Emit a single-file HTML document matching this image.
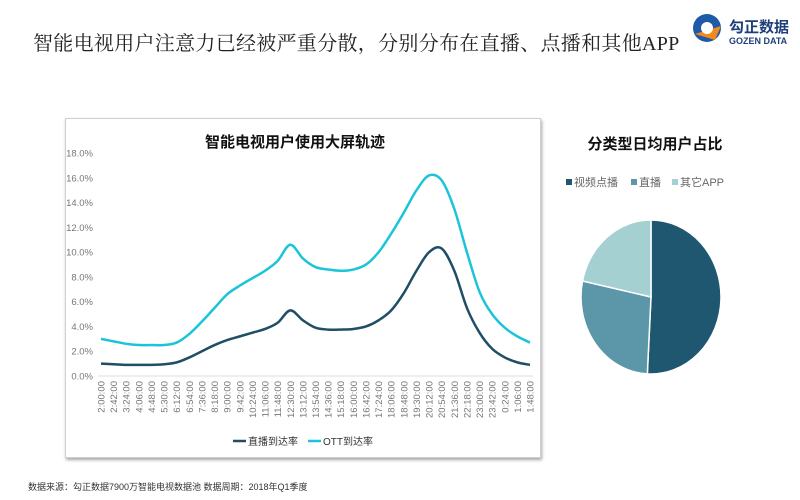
<!DOCTYPE html>
<html><head><meta charset="utf-8"><style>
body{margin:0;background:#fff;width:800px;height:500px;overflow:hidden;position:relative;font-family:"Liberation Sans","Noto Sans CJK SC",sans-serif}
.t{position:absolute;left:33px;top:27px;font-family:"Liberation Serif","Noto Serif CJK SC",serif;font-size:20px;color:#222;white-space:nowrap;letter-spacing:0.3px}
.box{position:absolute;left:65px;top:118px;width:474px;height:338px;border:1px solid #d0d0d0;box-shadow:1px 2px 3px rgba(0,0,0,0.35)}
.foot{position:absolute;left:28px;top:480px;font-size:9px;color:#333}
</style></head><body>
<div class="t">智能电视用户注意力已经被严重分散，分别分布在直播、点播和其他APP</div>
<div class="box"></div>
<svg width="800" height="500" style="position:absolute;left:0;top:0" id="s">
<g transform="translate(685,10)">
<circle cx="22" cy="18" r="14" fill="#1e5aa8"/>
<path d="M10 24 L36 16 L30 30 Z" fill="#f08a1c"/>
<circle cx="22" cy="18" r="6" fill="#fff"/>
<text x="44" y="22" font-size="15" font-weight="bold" fill="#1e3f7a" font-family="Liberation Sans,Noto Sans CJK SC,sans-serif">勾正数据</text>
<text x="44" y="34" font-size="9" font-weight="bold" fill="#1e3f7a" font-family="Liberation Sans,sans-serif">GOZEN DATA</text>
</g>
<text x="295" y="147" text-anchor="middle" font-size="15" font-weight="bold" fill="#111" font-family="Liberation Sans,Noto Sans CJK SC,sans-serif">智能电视用户使用大屏轨迹</text>
<text x="655" y="149" text-anchor="middle" font-size="15" font-weight="bold" fill="#111" font-family="Liberation Sans,Noto Sans CJK SC,sans-serif">分类型日均用户占比</text>
<g font-size="11" fill="#666" font-family="Liberation Sans,Noto Sans CJK SC,sans-serif">
<rect x="566" y="179" width="6" height="6" fill="#1f5670"/><text x="574" y="186">视频点播</text>
<rect x="631" y="179" width="6" height="6" fill="#5b97a8"/><text x="639" y="186">直播</text>
<rect x="672" y="179" width="6" height="6" fill="#a5d0d2"/><text x="680" y="186">其它APP</text>
</g>
<g id="pie"></g>
<g id="ch"></g>
<g font-size="10" fill="#333" font-family="Liberation Sans,Noto Sans CJK SC,sans-serif">
<line x1="233" y1="441" x2="246" y2="441" stroke="#1f4e66" stroke-width="2.5"/><text x="248" y="445">直播到达率</text>
<line x1="308" y1="441" x2="321" y2="441" stroke="#1bc4d8" stroke-width="2.5"/><text x="323" y="445">OTT到达率</text>
</g>
</svg>
<div class="foot">数据来源：勾正数据7900万智能电视数据池  数据周期：2018年Q1季度</div>
<script>
var ns="http://www.w3.org/2000/svg",g=document.getElementById('ch');
function el(n,a,t){var e=document.createElementNS(ns,n);for(var k in a)e.setAttribute(k,a[k]);if(t)e.textContent=t;return e}
var y0=376,py=12.38,x0=101,dx=(530-101)/34;
for(var i=0;i<=9;i++){var v=i*2;g.appendChild(el('text',{x:93,y:y0-v*py+3.5,'text-anchor':'end','font-size':9.5,fill:'#777'},v.toFixed(1)+'%'))}
g.appendChild(el('line',{x1:98,y1:y0,x2:533,y2:y0,stroke:'#ddd'}));
var L=["2:00","2:42","3:24","4:06","4:48","5:30","6:12","6:54","7:36","8:18","9:00","9:42","10:24","11:06","11:48","12:30","13:12","13:54","14:36","15:18","16:00","16:42","17:24","18:06","18:48","19:30","20:12","20:54","21:36","22:18","23:00","23:42","0:24","1:06","1:48"];
L.forEach(function(s,i){var x=x0+i*dx+3.5;g.appendChild(el('text',{x:0,y:0,transform:'translate('+x+',381) rotate(-90)','text-anchor':'end','font-size':9.5,fill:'#777'},s+':00'))});
var ott=[3.0,2.8,2.6,2.5,2.5,2.5,2.7,3.4,4.4,5.5,6.6,7.3,7.9,8.5,9.3,10.6,9.5,8.8,8.6,8.5,8.6,9.0,10.0,11.5,13.2,15.0,16.2,15.8,13.5,10.0,6.8,5.0,3.9,3.2,2.7];
var live=[1.0,0.95,0.9,0.9,0.9,0.95,1.1,1.5,2.0,2.5,2.9,3.2,3.5,3.8,4.3,5.3,4.5,3.9,3.75,3.75,3.8,4.0,4.5,5.3,6.7,8.5,10.0,10.3,8.5,5.5,3.5,2.2,1.5,1.1,0.9];
function path(d){var p=d.map(function(v,i){return[x0+i*dx,y0-v*py]});var s='M'+p[0];for(var i=0;i<p.length-1;i++){var a=p[i-1]||p[i],b=p[i],c=p[i+1],e=p[i+2]||c;s+='C'+(b[0]+(c[0]-a[0])/6)+','+(b[1]+(c[1]-a[1])/6)+' '+(c[0]-(e[0]-b[0])/6)+','+(c[1]-(e[1]-b[1])/6)+' '+c}return s}
g.appendChild(el('path',{d:path(ott),fill:'none',stroke:'#1bc4d8','stroke-width':2.5}));
g.appendChild(el('path',{d:path(live),fill:'none',stroke:'#1f4e66','stroke-width':2.5}));
var pg=document.getElementById('pie'),cx=651,cy=297,rx=70,ry=77;
var sl=[[0,183,'#1f5670'],[183,282,'#5b97a8'],[282,360,'#a5d0d2']];
function pt(a){a=a*Math.PI/180;return[cx+rx*Math.sin(a),cy-ry*Math.cos(a)]}
sl.forEach(function(s){var a=pt(s[0]),b=pt(s[1]);pg.appendChild(el('path',{d:'M'+cx+','+cy+'L'+a+'A'+rx+','+ry+' 0 '+(s[1]-s[0]>180?1:0)+',1 '+b+'Z',fill:s[2],stroke:'#fff','stroke-width':1.5}))});
</script>
</body></html>
